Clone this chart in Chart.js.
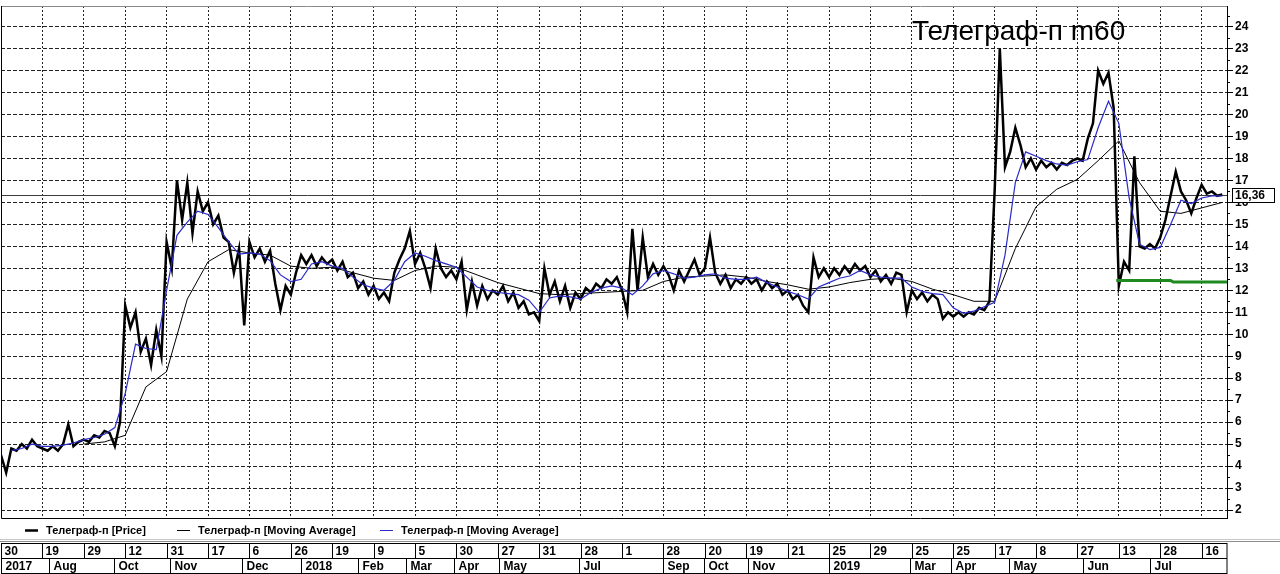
<!DOCTYPE html>
<html>
<head>
<meta charset="utf-8">
<script src="https://cdn.jsdelivr.net/npm/chart.js@4.4.1/dist/chart.umd.min.js"></script>
<style>
  html, body { margin: 0; padding: 0; background: #fff; }
  canvas { display: block; }
</style>
</head>
<body>
<canvas id="chart" width="1280" height="574"></canvas>
<script>
// price, one value per bar (8 bars per grid cell)
const price = [
  4.5, 3.7, 4.8, 4.7, 5.0, 4.8, 5.2, 4.9,
  4.8, 4.7, 4.9, 4.7, 5.0, 5.9, 4.9, 5.1,
  5.2, 5.1, 5.4, 5.3, 5.6, 5.5, 4.9, 6.0,
  11.3, 10.3, 11.0, 9.2, 9.8, 8.6, 10.2, 9.0,
  14.2, 13.0, 17.0, 15.2, 16.9, 14.6, 16.5, 15.6,
  16.0, 15.0, 15.4, 14.4, 14.2, 12.8, 13.9, 10.4,
  14.2, 13.5, 13.9, 13.3, 13.8, 12.3, 11.1, 12.2,
  11.8, 12.8, 13.6, 13.2, 13.6, 13.1, 13.5, 13.2,
  13.4, 12.9, 13.3, 12.6, 12.8, 12.1, 12.4, 11.8,
  12.2, 11.6, 11.9, 11.5, 12.8, 13.4, 13.9, 14.7,
  13.2, 13.7, 13.0, 12.1, 13.9, 13.0, 12.6, 12.9,
  12.5, 13.3, 11.1, 12.4, 11.3, 12.2, 11.6, 12.0,
  11.8, 12.2, 11.5, 11.9, 11.2, 11.5, 10.9, 11.0,
  10.6, 13.0, 11.8, 12.4, 11.5, 12.2, 11.2, 11.9,
  11.6, 12.1, 11.9, 12.3, 12.1, 12.5, 12.3, 12.6,
  12.0, 11.0, 14.8, 12.0, 14.4, 12.6, 13.2, 12.7,
  13.1, 12.7, 12.0, 12.9, 12.4, 12.9, 13.4, 12.7,
  13.0, 14.4, 12.8, 12.3, 12.7, 12.1, 12.5, 12.3,
  12.6, 12.3, 12.5, 12.0, 12.4, 12.1, 12.3, 11.8,
  12.0, 11.6, 11.8, 11.3, 11.0, 13.5, 12.6, 13.0,
  12.6, 13.0, 12.7, 13.1, 12.8, 13.2, 12.9, 13.1,
  12.6, 12.9, 12.4, 12.7, 12.3, 12.8, 12.7, 11.0,
  12.0, 11.6, 11.9, 11.5, 11.8, 11.6, 10.7, 11.0,
  10.8, 11.0, 10.8, 11.0, 10.9, 11.2, 11.1, 11.5,
  16.5, 23.0, 17.6, 18.3, 19.4, 18.6, 17.6, 18.0,
  17.5, 17.9, 17.6, 17.8, 17.5, 17.8, 17.7, 17.9,
  18.0, 17.9, 18.9, 19.6, 22.0, 21.4, 21.9, 20.3,
  12.2, 13.3, 12.9, 18.1, 14.0, 13.9, 14.1, 13.9,
  14.4, 15.2, 16.3, 17.4, 16.5, 16.1, 15.5, 16.2,
  16.8, 16.4, 16.5, 16.3, 16.36
];

// slow moving average (m60), one value every 4 bars
const maSlow = [
  null, null, null, null, 5.0, 5.1, 5.4, 7.6, 8.3, 11.6,
  13.3, 13.85, 13.7, 13.6, 13.1, 13.0, 13.05, 12.8, 12.55, 12.45,
  12.9, 13.1, 13.05, 12.7, 12.35, 12.1, 11.85, 11.8, 11.85, 11.9,
  11.95, 12.0, 12.4, 12.6, 12.65, 12.7, 12.6, 12.4, 12.25, 12.05,
  12.15, 12.35, 12.5, 12.55, 12.4, 12.05, 11.8, 11.5, 11.5, 13.9,
  15.8, 16.6, 17.05, 17.9, 18.8, 16.9, 15.6, 15.5, 15.75, 16.0
];

// fast moving average, one value every 2 bars
const maFast = [
  null, 4.7, 4.8, 5.0, 4.9, 4.9, 4.95, 5.05, 5.2, 5.3,
  5.45, 5.75, 7.3, 9.55, 9.35, 9.3, 12.0, 14.5, 15.1, 15.6,
  15.45, 14.85, 14.2, 13.65, 13.7, 13.65, 13.35, 12.7, 12.4, 12.5,
  13.2, 13.3, 13.1, 13.0, 12.6, 12.25, 12.1, 12.0, 12.45, 13.3,
  13.7, 13.55, 13.35, 13.2, 13.05, 12.6, 12.15, 12.0, 11.9, 11.85,
  11.8, 11.55, 11.0, 11.65, 11.75, 11.7, 11.6, 11.9, 12.1, 12.2,
  12.1, 11.8, 12.2, 12.75, 12.9, 12.75, 12.55, 12.6, 12.7, 12.75,
  12.55, 12.5, 12.5, 12.6, 12.35, 12.15, 11.95, 11.8, 11.6, 12.15,
  12.35, 12.55, 12.65, 12.9, 12.7, 12.6, 12.55, 12.55, 12.15, 11.95,
  11.85, 11.8, 11.2, 10.95, 11.05, 11.25, 11.45, 13.6, 16.9, 18.3,
  18.1, 17.9, 17.75, 17.7, 17.85, 17.95, 19.4, 20.6, 19.6, 16.2,
  14.1, 13.85, 13.95, 15.0, 16.1, 15.95, 16.2, 16.3, 16.3
];

// green level line: bar index and value
const levelBars = [215.5, 226, 226.5, 236.9];
const levelValues = [12.45, 12.45, 12.38, 12.38];

const lastPrice = 16.36;
const barsPerCell = 8;
const yTicks = [2, 3, 4, 5, 6, 7, 8, 9, 10, 11, 12, 13, 14, 15, 16, 17, 18, 19, 20, 21, 22, 23, 24];

// date axis
const dayLabels = ['30', '19', '29', '12', '31', '17', '6', '26', '19', '9', '5', '30', '27', '31', '28',
  '1', '28', '20', '19', '21', '25', '29', '25', '25', '17', '8', '27', '13', '28', '16'];
const monthLabels = ['2017', 'Aug', 'Oct', 'Nov', 'Dec', '2018', 'Feb', 'Mar', 'Apr', 'May', 'Jul',
  'Sep', 'Oct', 'Nov', '2019', 'Mar', 'Apr', 'May', 'Jun', 'Jul'];
const monthBars = [0, 9.3, 21.8, 32.7, 46.6, 58, 69, 78.3, 87.6, 96.3, 111.7,
  128, 135.9, 144.4, 159.9, 175.7, 183.6, 194.7, 209, 222.1];

const legendItems = [
  { text: 'Телеграф-п [Price]', color: '#000', width: 2.5 },
  { text: 'Телеграф-п [Moving Average]', color: '#000', width: 1 },
  { text: 'Телеграф-п [Moving Average]', color: '#2a2ac8', width: 1 }
];

const boldFont = (size) => 'bold ' + size + 'px "Liberation Sans", Arial, sans-serif';

const decor = {
  id: 'decor',
  beforeDatasetsDraw(chart) {
    const { ctx, chartArea: a, scales: { y } } = chart;
    const py = Math.round(y.getPixelForValue(lastPrice)) + 0.5;
    ctx.save();
    ctx.strokeStyle = '#3c3c3c';
    ctx.lineWidth = 1;
    ctx.beginPath();
    ctx.moveTo(a.left, py);
    ctx.lineTo(a.right, py);
    ctx.stroke();
    ctx.restore();
  },
  afterDraw(chart) {
    const { ctx, chartArea: a, scales: { x, y } } = chart;
    ctx.save();

    // frame
    ctx.lineWidth = 1;
    ctx.strokeStyle = '#8a8a8a';
    ctx.beginPath();
    ctx.moveTo(a.left, a.top + 0.5);
    ctx.lineTo(a.right, a.top + 0.5);
    ctx.stroke();
    ctx.strokeStyle = '#000';
    ctx.beginPath();
    ctx.moveTo(a.left + 0.5, a.top);
    ctx.lineTo(a.left + 0.5, a.bottom + 0.5);
    ctx.lineTo(a.right, a.bottom + 0.5);
    ctx.stroke();

    // minor ticks on the price axis
    ctx.beginPath();
    for (let v = 1.5; v < 25; v += 1) {
      const py = Math.round(y.getPixelForValue(v)) + 0.5;
      if (py < a.top || py > a.bottom) continue;
      ctx.moveTo(a.right, py);
      ctx.lineTo(a.right + 3, py);
    }
    ctx.stroke();

    // last price box
    const ly = Math.round(y.getPixelForValue(lastPrice));
    ctx.fillStyle = '#fff';
    ctx.fillRect(a.right + 5, ly - 7, 43, 15);
    ctx.strokeRect(a.right + 5.5, ly - 6.5, 42, 14);
    ctx.fillStyle = '#000';
    ctx.font = boldFont(12);
    ctx.textBaseline = 'middle';
    ctx.textAlign = 'left';
    ctx.fillText(String(lastPrice).replace('.', ','), a.right + 8, ly + 1);

    // title
    ctx.font = '28px "Liberation Sans", Arial, sans-serif';
    ctx.textBaseline = 'alphabetic';
    ctx.fillText('Телеграф-п m60', 912, 40);

    // legend
    const legY = a.bottom + 12.5;
    const legX = [25, 177, 380];
    ctx.font = boldFont(11);
    ctx.textBaseline = 'middle';
    legendItems.forEach((item, i) => {
      ctx.strokeStyle = item.color;
      ctx.lineWidth = item.width;
      ctx.beginPath();
      ctx.moveTo(legX[i], legY);
      ctx.lineTo(legX[i] + 13, legY);
      ctx.stroke();
      ctx.fillStyle = '#000';
      ctx.fillText(item.text, legX[i] + 21, legY);
    });

    // separator
    const W = chart.width;
    ctx.lineWidth = 1;
    ctx.strokeStyle = '#c8c8c8';
    ctx.beginPath(); ctx.moveTo(0, a.bottom + 21.5); ctx.lineTo(W, a.bottom + 21.5); ctx.stroke();
    ctx.strokeStyle = '#8c8c8c';
    ctx.beginPath(); ctx.moveTo(0, a.bottom + 23.5); ctx.lineTo(W, a.bottom + 23.5); ctx.stroke();

    // date axis boxes
    const top = a.bottom + 25.5, mid = a.bottom + 40.5, bot = a.bottom + 55.5;
    ctx.strokeStyle = '#000';
    ctx.strokeRect(a.left + 0.5, top, a.right - a.left - 0.5, bot - top);
    ctx.beginPath();
    ctx.moveTo(a.left, mid); ctx.lineTo(a.right, mid);
    ctx.stroke();

    ctx.font = boldFont(12);
    ctx.fillStyle = '#000';
    ctx.textBaseline = 'middle';
    dayLabels.forEach((d, i) => {
      const px = Math.round(x.getPixelForValue(i * barsPerCell)) + 0.5;
      if (i > 0) {
        ctx.beginPath(); ctx.moveTo(px, top); ctx.lineTo(px, mid); ctx.stroke();
      }
      ctx.fillText(d, px + 3, (top + mid) / 2 + 1);
    });
    monthLabels.forEach((m, i) => {
      const px = Math.round(x.getPixelForValue(monthBars[i])) + 0.5;
      if (i > 0) {
        ctx.beginPath(); ctx.moveTo(px, mid); ctx.lineTo(px, bot); ctx.stroke();
      }
      ctx.fillText(m, px + 4, (mid + bot) / 2 + 1);
    });

    ctx.restore();
  }
};

const ctx = document.getElementById('chart').getContext('2d');
new Chart(ctx, {
  type: 'line',
  data: {
    datasets: [
      {
        label: 'Телеграф-п [Moving Average]',
        data: maFast.map((v, k) => ({ x: k * 2, y: v })),
        borderColor: '#2a2ac8',
        borderWidth: 1.2,
        pointRadius: 0,
        order: 0
      },
      {
        label: 'Телеграф-п [Moving Average]',
        data: maSlow.map((v, k) => ({ x: k * 4, y: v })),
        borderColor: '#000',
        borderWidth: 1,
        pointRadius: 0,
        order: 1
      },
      {
        label: 'level',
        data: levelBars.map((b, k) => ({ x: b, y: levelValues[k] })),
        borderColor: '#1f8a1f',
        borderWidth: 3,
        pointRadius: 0,
        order: 2
      },
      {
        label: 'Телеграф-п [Price]',
        data: price.map((v, i) => ({ x: i, y: v })),
        borderColor: '#000',
        borderWidth: 2.5,
        borderJoinStyle: 'miter',
        pointRadius: 0,
        order: 3
      }
    ]
  },
  options: {
    responsive: false,
    animation: false,
    events: [],
    layout: { padding: { left: 1, top: 6, right: 0, bottom: 56 } },
    plugins: {
      legend: { display: false },
      tooltip: { enabled: false },
      title: { display: false }
    },
    scales: {
      x: {
        type: 'linear',
        min: 0,
        max: 236.9,
        afterBuildTicks: (scale) => {
          scale.ticks = dayLabels.map((d, i) => ({ value: i * barsPerCell }));
        },
        afterFit: (scale) => {
          scale.height = 0;
          scale.paddingLeft = 0;
          scale.paddingRight = 0;
        },
        ticks: { display: false },
        grid: { color: '#222', lineWidth: 1, drawTicks: false },
        border: { display: false, dash: [2, 2] }
      },
      y: {
        position: 'right',
        min: 1.636,
        max: 24.94,
        afterBuildTicks: (scale) => {
          scale.ticks = yTicks.map(v => ({ value: v }));
        },
        afterFit: (scale) => {
          scale.width = 53;
          scale.paddingTop = 0;
          scale.paddingBottom = 0;
        },
        ticks: {
          color: '#000',
          padding: 2,
          font: { family: '"Liberation Sans", Arial, sans-serif', size: 12, weight: 'bold' }
        },
        grid: { color: '#222', lineWidth: 1, tickLength: 6, tickColor: '#000', tickBorderDash: [] },
        border: { display: true, color: '#000', width: 1, dash: [4, 2] }
      }
    }
  },
  plugins: [decor]
});
</script>
</body>
</html>
